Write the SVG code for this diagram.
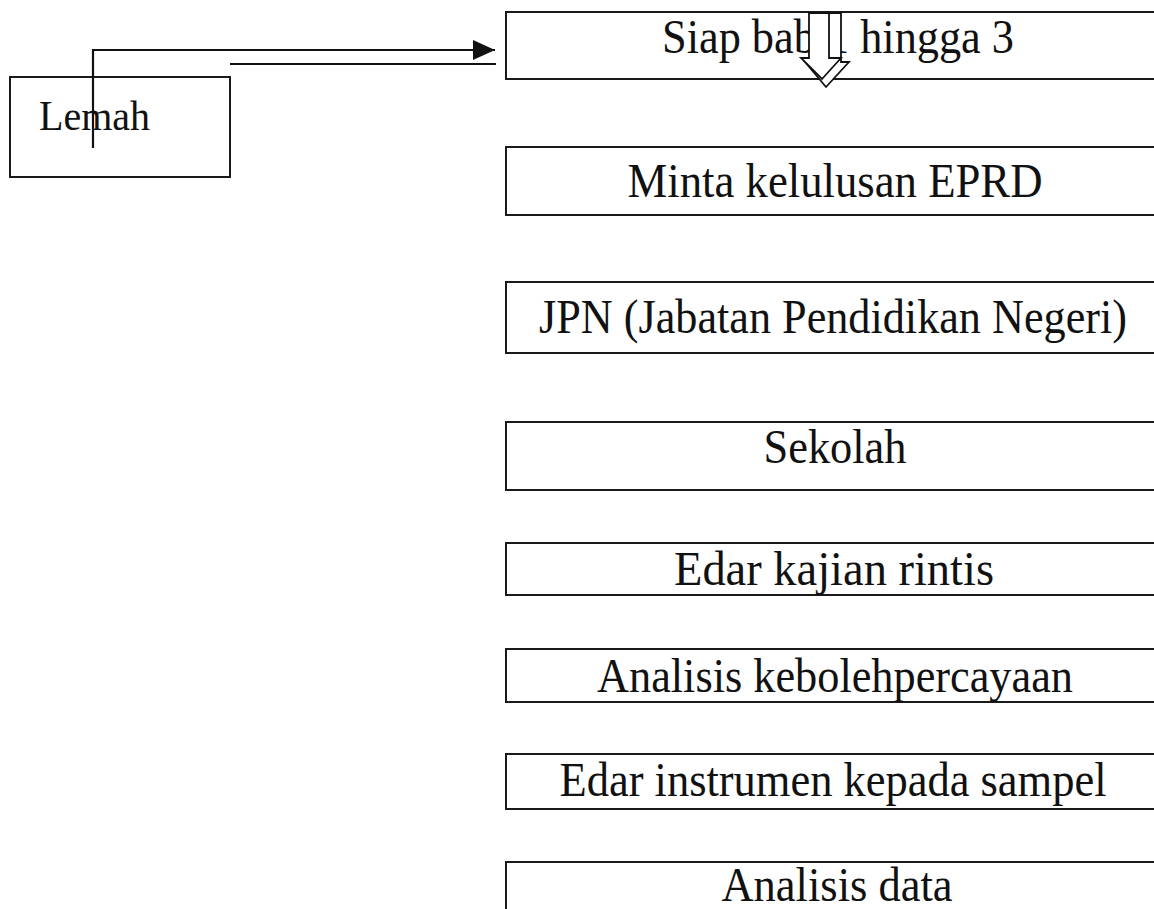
<svg xmlns="http://www.w3.org/2000/svg" width="1154" height="909" viewBox="0 0 1154 909">
  <style>
    .box { fill: #ffffff; stroke: #1a1a1a; stroke-width: 2; }
    .lbl { font-family: "Liberation Serif", "Times New Roman", serif; font-size: 48px; fill: #111111; }
    .mid { text-anchor: middle; }
    .line { fill: none; stroke: #111111; stroke-width: 2.2; }
    .blk { fill: #ffffff; stroke: #111111; stroke-width: 1.8; stroke-linejoin: miter; }
  </style>
  <defs>
    <marker id="arrowhead" markerWidth="22" markerHeight="20" refX="22" refY="10" orient="auto" markerUnits="userSpaceOnUse">
      <path d="M0,0 L22,10 L0,20 Z" fill="#111111"/>
    </marker>
  </defs>
  <rect width="1154" height="909" fill="#ffffff"/>

  <g id="node-lemah">
    <rect class="box" x="10" y="77" width="220" height="100"/>
    <text class="lbl" x="39" y="130" style="font-size:43px" textLength="111" lengthAdjust="spacingAndGlyphs">Lemah</text>
  </g>

  <g id="node-siap">
    <rect class="box" x="506" y="12" width="656" height="67"/>
    <text class="lbl" x="662" y="53" textLength="352" lengthAdjust="spacingAndGlyphs">Siap bab 1 hingga 3</text>
  </g>

  <g id="node-minta">
    <rect class="box" x="506" y="147" width="656" height="68"/>
    <text class="lbl mid" x="835" y="197" textLength="415" lengthAdjust="spacingAndGlyphs">Minta kelulusan EPRD</text>
  </g>

  <g id="node-jpn">
    <rect class="box" x="506" y="282" width="656" height="71"/>
    <text class="lbl mid" x="833" y="333" textLength="588" lengthAdjust="spacingAndGlyphs">JPN (Jabatan Pendidikan Negeri)</text>
  </g>

  <g id="node-sekolah">
    <rect class="box" x="506" y="422" width="656" height="68"/>
    <text class="lbl mid" x="835" y="463" textLength="143" lengthAdjust="spacingAndGlyphs">Sekolah</text>
  </g>

  <g id="node-edar-kajian">
    <rect class="box" x="506" y="543" width="656" height="52"/>
    <text class="lbl mid" x="834" y="585" textLength="320" lengthAdjust="spacingAndGlyphs">Edar kajian rintis</text>
  </g>

  <g id="node-analisis-keb">
    <rect class="box" x="506" y="649" width="656" height="53"/>
    <text class="lbl mid" x="835" y="692" textLength="476" lengthAdjust="spacingAndGlyphs">Analisis kebolehpercayaan</text>
  </g>

  <g id="node-edar-instrumen">
    <rect class="box" x="506" y="754" width="656" height="55"/>
    <text class="lbl mid" x="833" y="796" textLength="547" lengthAdjust="spacingAndGlyphs">Edar instrumen kepada sampel</text>
  </g>

  <g id="node-analisis-data">
    <rect class="box" x="506" y="862" width="656" height="80"/>
    <text class="lbl mid" x="837" y="901" textLength="231" lengthAdjust="spacingAndGlyphs">Analisis data</text>
  </g>

  <g id="connectors">
    <polyline class="line" points="93,148 93,50 495,50" marker-end="url(#arrowhead)"/>
    <line class="line" x1="230" y1="64" x2="496" y2="64"/>
    <path class="blk" d="M817,13 L841,13 L841,62 L849,62 L826,87 L805,62 L817,62 Z"/>
    <path class="blk" d="M809,13 L829,13 L829,58 L841,58 L822,79 L801,58 L809,58 Z"/>
  </g>
</svg>
